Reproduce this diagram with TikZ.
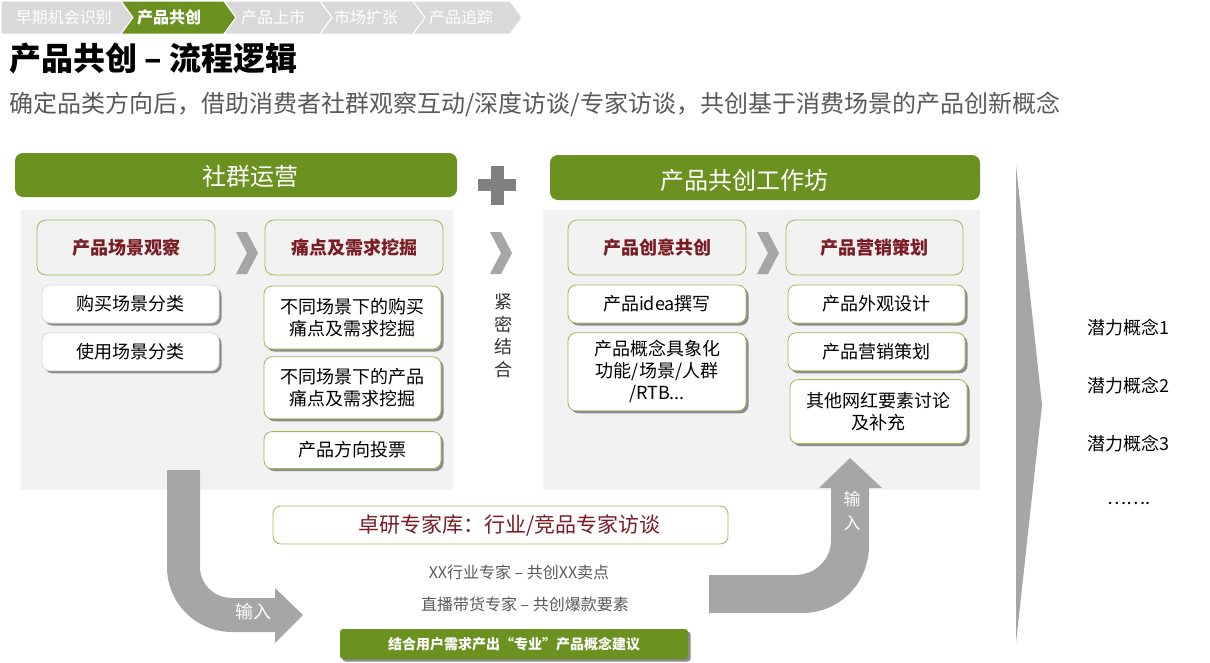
\documentclass[tikz,border=0pt]{standalone}
\usepackage{fontspec}
\setmainfont{Noto Sans CJK SC}
\usetikzlibrary{positioning,shadows}
\definecolor{leaf}{RGB}{107,146,32}
\definecolor{leafline}{RGB}{155,187,89}
\definecolor{wine}{RGB}{122,28,36}
\definecolor{panel}{RGB}{242,242,242}
\definecolor{crumb}{RGB}{217,217,217}
\definecolor{flow}{RGB}{166,166,166}
\definecolor{cross}{RGB}{128,128,128}

\begin{document}
\begin{tikzpicture}[
    x=1pt, y=-1pt,
    crumbtxt/.style={text=white, font=\fontsize{16}{18}\selectfont, inner sep=0pt},
    head/.style={fill=leaf, rounded corners=8pt, minimum height=44pt, inner sep=0pt},
    headtxt/.style={text=white, font=\fontsize{24}{28}\selectfont, inner sep=0pt},
    stage/.style={draw=leafline, fill=panel, rounded corners=9pt, text=wine, line width=0.8pt,
                  font=\bfseries\fontsize{18}{22}\selectfont, minimum width=178pt, minimum height=55pt},
    item/.style={draw=leafline, fill=white, rounded corners=8pt, align=center, line width=0.8pt,
                 font=\fontsize{18}{22}\selectfont, minimum width=177pt, minimum height=38pt, inner sep=2pt,
                 drop shadow={shadow xshift=2.5pt, shadow yshift=-2.5pt, fill=black!45, opacity=1}},
    gitem/.style={item, draw=black!15},
    note/.style={text=black!65, font=\fontsize{16}{18}\selectfont, inner sep=0pt},
    pick/.style={font=\fontsize{18}{20}\selectfont, inner sep=0pt}
  ]
    \useasboundingbox (0,0) rectangle (1210,662);

    % Stage bar
    \fill[crumb, draw=white, line width=1pt] (1,1) -- (121,1) -- (133,17.5) -- (121,34) -- (1,34) -- cycle;
    \fill[leaf, draw=white, line width=1pt] (121,1) -- (224,1) -- (236,17.5) -- (224,34) -- (121,34) -- (133,17.5) -- cycle;
    \fill[crumb, draw=white, line width=1pt] (224,1) -- (320,1) -- (332,17.5) -- (320,34) -- (224,34) -- (236,17.5) -- cycle;
    \fill[crumb, draw=white, line width=1pt] (320,1) -- (413,1) -- (425,17.5) -- (413,34) -- (320,34) -- (332,17.5) -- cycle;
    \fill[crumb, draw=white, line width=1pt] (413,1) -- (510,1) -- (522,17.5) -- (510,34) -- (413,34) -- (425,17.5) -- cycle;
    \node[crumbtxt] (s1) at (64,17.5) {早期机会识别};
    \node[crumbtxt, font=\bfseries\fontsize{16}{18}\selectfont] (s2) at (169,17.5) {产品共创};
    \node[crumbtxt] (s3) at (273,17.5) {产品上市};
    \node[crumbtxt] (s4) at (366,17.5) {市场扩张};
    \node[crumbtxt] (s5) at (461,17.5) {产品追踪};

    % Title
    \node[anchor=west, inner sep=0pt, font=\bfseries\fontsize{32}{35}\selectfont] (title) at (9,58) {产品共创 – 流程逻辑};
    \node[anchor=west, inner sep=0pt, text=black!65, font=\fontsize{24}{28}\selectfont] (sub) at (9,104)
      {确定品类方向后，借助消费者社群观察互动/深度访谈/专家访谈，共创基于消费场景的产品创新概念};

    % Panels
    \fill[panel] (21,210) rectangle (453,490);
    \fill[panel] (543,210) rectangle (980,490);
    \node[head, minimum width=442pt] (grp) at (236,175) {};
    \node[headtxt] (grptxt) at (250,176) {社群运营};
    \node[head, minimum width=430pt, minimum height=45pt] (shop) at (765,177.5) {};
    \node[headtxt] (shoptxt) at (744,180) {产品共创工作坊};
    \fill[cross] (478,179) rectangle (516,191);
    \fill[cross] (491,166) rectangle (504,205);

    % Community side
    \node[stage] (obs) at (126,247.5) {产品场景观察};
    \node[stage] (pain) at (354,247.5) {痛点及需求挖掘};
    \node[gitem] (buy) at (130.5,304) {购买场景分类};
    \node[gitem, below=9pt of buy] (use) {使用场景分类};
    \node[item, minimum height=63pt] (pain1) at (352.5,317.5) {不同场景下的购买\\痛点及需求挖掘};
    \node[item, minimum height=62pt, below=7pt of pain1] (pain2) {不同场景下的产品\\痛点及需求挖掘};
    \node[item, minimum height=37pt, below=12pt of pain2] (vote) {产品方向投票};

    % Link
    \node[align=center, inner sep=0pt, text=black!80, font=\fontsize{18}{22.5}\selectfont] (tie) at (503,336) {紧\\密\\结\\合};

    % Workshop side
    \node[stage] (idea) at (657,247.5) {产品创意共创};
    \node[stage, minimum width=177pt] (mkt) at (874.5,247.5) {产品营销策划};
    \node[item, minimum width=178pt] (write) at (657,304) {产品idea撰写};
    \node[item, minimum width=178pt, minimum height=78pt, below=9pt of write] (concept) {产品概念具象化\\功能/场景/人群\\/RTB...};
    \node[item] (look) at (876.5,304) {产品外观设计};
    \node[item, below=9pt of look] (plan) {产品营销策划};
    \node[item, minimum height=64pt, xshift=2pt, below=8pt of plan] (other) {其他网红要素讨论\\及补充};

    % Chevrons
    \fill[flow] (236,232) -- (247,232) -- (258,253) -- (247,274) -- (236,274) -- (247,253) -- cycle;
    \fill[flow] (490,232) -- (501,232) -- (512,253) -- (501,274) -- (490,274) -- (501,253) -- cycle;
    \fill[flow] (757,232) -- (768,232) -- (779,253) -- (768,274) -- (757,274) -- (768,253) -- cycle;

    % Experts
    \node[draw=leafline, fill=white, rounded corners=8pt, line width=0.8pt, minimum width=455pt, minimum height=38pt,
          text=wine, font=\fontsize{21}{24}\selectfont] (expert) at (500.5,525) {\hspace*{18pt}卓研专家库：行业/竞品专家访谈};
    \node[note] (ex1) at (519,572) {XX行业专家 – 共创XX卖点};
    \node[note] (ex2) at (525,604) {直播带货专家 – 共创爆款要素};
    \node[fill=leaf, rounded corners=3pt, minimum width=348pt, minimum height=30pt, inner sep=0pt, text=white,
          font=\bfseries\fontsize{14}{16}\selectfont,
          drop shadow={shadow xshift=2.5pt, shadow yshift=-2.5pt, fill=black!45, opacity=1}] (advice) at (514,644)
          {结合用户需求产出“专业”产品概念建议};

    % Input arrows
    \fill[flow] (167,470) -- (167,567) .. controls (167,603) and (196,632) .. (232,632) -- (275,632) -- (275,643)
      -- (303,615) -- (275,588) -- (275,598) -- (232,598) .. controls (214,598) and (200,584) .. (200,567)
      -- (200,470) -- cycle;
    \node[text=white, inner sep=0pt, font=\fontsize{18}{20}\selectfont] (in1) at (253,612) {输入};
    \fill[flow] (709,575) -- (795,575) .. controls (815,575) and (831,560) .. (831,540) -- (831,488) -- (819,488)
      -- (850,458) -- (882,488) -- (869,488) -- (869,545) .. controls (869,583) and (840,613) .. (802,613)
      -- (709,613) -- cycle;
    \node[text=white, align=center, inner sep=0pt, font=\fontsize{17}{24}\selectfont] (in2) at (852,511) {输\\入};

    % Results
    \fill[flow] (1016,165) -- (1042,405) -- (1016,643) -- cycle;
    \node[pick] (p1) at (1128,328) {潜力概念1};
    \node[pick] (p2) at (1128,386) {潜力概念2};
    \node[pick] (p3) at (1128,444) {潜力概念3};
    \node[pick] (p4) at (1129,503) {…….};
  \end{tikzpicture}
\end{document}
